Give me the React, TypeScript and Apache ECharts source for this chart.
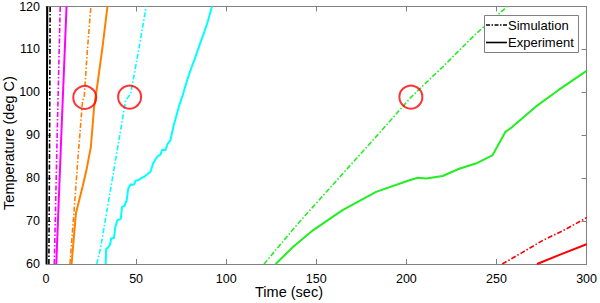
import React, { useEffect, useRef } from "react";
import * as echarts from "echarts";

// [time (sec), temperature (deg C)]
const blackSim: number[][] = [[1.6, 60], [2.0, 90], [2.3, 120]];
const blackExp: number[][] = [[0.3, 60], [0.5, 90], [0.7, 120]];
const magentaSim: number[][] = [[4.6, 60], [6.2, 90], [7.9, 120]];
const magentaExp: number[][] = [[5.7, 60], [8.5, 90], [11.4, 120]];
const orangeSim: number[][] = [[13.3, 60], [15.5, 72], [17.8, 85], [20.3, 98.1], [21.2, 98.9], [23.0, 110], [24.9, 120]];
const orangeExp: number[][] = [[14.2, 60], [16.6, 71.8], [20.3, 78], [22.5, 82], [24.9, 87.3], [26.7, 96.6], [28.6, 102], [31.5, 111], [34.1, 120]];
const cyanSim: number[][] = [[28.2, 60], [30.4, 64], [37.5, 81.5], [44.2, 98.1], [47.0, 99.7], [51.5, 110], [55.6, 120]];
const cyanExp: number[][] = [
  [33.1, 60], [33.4, 63.6], [34.1, 63.6], [35.5, 64.5], [36.2, 66], [37.7, 66], [38.4, 68.5], [39.6, 70.2],
  [41.5, 70.5], [42.2, 73.3], [43.5, 73.5], [44.8, 74.9], [45.6, 77.5], [47.0, 78.6], [47.9, 78.4],
  [49.0, 78.6], [49.7, 79.4], [51.0, 79.5], [52.5, 79.9], [55.0, 80.5], [58.0, 81.5], [59.5, 83.5],
  [61.7, 85], [63.5, 85.5], [64.5, 86.6], [66.3, 86.5], [67.5, 88], [69.0, 88.8], [71.0, 92.5],
  [73.7, 96.6], [76.0, 99.5], [78.3, 102.8], [80.5, 105.5], [82.9, 108.2], [85.2, 111], [87.5, 113.6],
  [89.8, 116.5], [92.1, 120],
];
const greenSim: number[][] = [[121, 60], [140, 69.5], [164.8, 81.1], [185, 90.5], [202.6, 98.9], [220.1, 105.9], [238.5, 113.6], [256, 120]];
const greenExp: number[][] = [
  [127.4, 60], [137.2, 64], [148.3, 67.9], [164.8, 72.6], [183.2, 76.8], [201.7, 79.5], [206.3, 80.1],
  [210.9, 79.9], [220.1, 80.5], [229.3, 82.2], [238.5, 83.4], [247.7, 85.3], [250.4, 87.3], [255, 90.8],
  [258.7, 91.9], [271.6, 96.6], [284.3, 100.5], [300, 105],
];
const redSim: number[][] = [[253.2, 60], [264, 62.6], [275.3, 65.4], [288, 68], [300, 70.8]];
const redExp: number[][] = [[272.5, 60], [286, 62.3], [300, 64.6]];
const circles: number[][] = [[21.5, 98.8], [46.4, 98.9], [202.5, 98.9]];

const xTicks = [0, 50, 100, 150, 200, 250, 300];
const yTicks = [60, 70, 80, 90, 100, 110, 120];
const xTitle = "Time (sec)";
const yTitle = "Temperature (deg C)";
const legendLabels = ["Simulation", "Experiment"];

const FONT = "Liberation Sans, Arial, sans-serif";
const DASHDOT = [5, 2, 1.5, 2];
const AXIS_COLOR = "#808080";

export default function App() {
  const ref = useRef<HTMLDivElement>(null);
  useEffect(() => {
    if (!ref.current) return;
    const chart = echarts.init(ref.current, undefined, { renderer: "svg" });
    const line = (data: number[][], color: string, sim: boolean) => ({
      type: "line",
      data,
      xAxisIndex: 0,
      yAxisIndex: 0,
      showSymbol: false,
      symbol: "none",
      clip: true,
      lineStyle: { color, width: sim ? 1.6 : 2, type: sim ? DASHDOT : "solid" },
    });
    const axisLine = { show: true, onZero: false, lineStyle: { color: AXIS_COLOR, width: 1 } };
    const axisTick = { show: true, inside: true, length: 5, lineStyle: { color: AXIS_COLOR } };
    chart.setOption({
      animation: false,
      backgroundColor: "#ffffff",
      grid: { left: 46, right: 12, top: 6, bottom: 39 },
      xAxis: [
        {
          type: "value",
          position: "bottom",
          min: xTicks[0],
          max: xTicks[xTicks.length - 1],
          interval: 50,
          axisLine,
          axisTick,
          splitLine: { show: false },
          axisLabel: { show: true, color: "#000", fontSize: 12.5, fontFamily: FONT, margin: 8 },
        },
        {
          type: "value",
          position: "top",
          min: xTicks[0],
          max: xTicks[xTicks.length - 1],
          interval: 50,
          axisLine,
          axisTick,
          splitLine: { show: false },
          axisLabel: { show: false },
        },
      ],
      yAxis: [
        {
          type: "value",
          position: "left",
          min: yTicks[0],
          max: yTicks[yTicks.length - 1],
          interval: 10,
          axisLine,
          axisTick,
          splitLine: { show: false },
          axisLabel: { show: true, color: "#000", fontSize: 12.5, fontFamily: FONT, margin: 6 },
        },
        {
          type: "value",
          position: "right",
          min: yTicks[0],
          max: yTicks[yTicks.length - 1],
          interval: 10,
          axisLine,
          axisTick,
          splitLine: { show: false },
          axisLabel: { show: false },
        },
      ],
      series: [
        line(blackExp, "#000000", false),
        line(blackSim, "#000000", true),
        line(magentaExp, "#ff00ff", false),
        line(magentaSim, "#ff00ff", true),
        line(orangeExp, "#ff8000", false),
        line(orangeSim, "#ff8000", true),
        line(cyanExp, "#00ffff", false),
        line(cyanSim, "#00ffff", true),
        line(greenExp, "#22ee22", false),
        line(greenSim, "#22ee22", true),
        line(redExp, "#ff0000", false),
        line(redSim, "#ff0000", true),
        {
          type: "scatter",
          data: circles,
          symbol: "circle",
          symbolSize: 23,
          itemStyle: { color: "rgba(0,0,0,0)", borderColor: "#ff0000", borderWidth: 2 },
          z: 5,
        },
      ],
      graphic: [
        {
          type: "text",
          x: 289,
          y: 292,
          style: { text: xTitle, fill: "#000", fontSize: 14.5, fontFamily: FONT, align: "center", verticalAlign: "middle" },
        },
        {
          type: "text",
          x: 9,
          y: 143,
          rotation: Math.PI / 2,
          style: { text: yTitle, fill: "#000", fontSize: 14.5, fontFamily: FONT, align: "center", verticalAlign: "middle" },
        },
        {
          type: "rect",
          shape: { x: 484.5, y: 15.5, width: 94, height: 37 },
          style: { fill: "#ffffff", stroke: AXIS_COLOR, lineWidth: 1 },
          z: 100,
        },
        {
          type: "line",
          shape: { x1: 486, y1: 25, x2: 507, y2: 25 },
          style: { stroke: "#000", lineWidth: 1.6, lineDash: [4, 1.5, 1.5, 1.5] },
          z: 101,
        },
        {
          type: "line",
          shape: { x1: 486, y1: 42.5, x2: 507, y2: 42.5 },
          style: { stroke: "#000", lineWidth: 1.6 },
          z: 101,
        },
        {
          type: "text",
          x: 508,
          y: 25,
          style: { text: legendLabels[0], fill: "#000", fontSize: 13, fontFamily: FONT, verticalAlign: "middle" },
          z: 101,
        },
        {
          type: "text",
          x: 508,
          y: 42.5,
          style: { text: legendLabels[1], fill: "#000", fontSize: 13, fontFamily: FONT, verticalAlign: "middle" },
          z: 101,
        },
      ],
    });
    return () => chart.dispose();
  }, []);
  return <div ref={ref} style={{ width: 600, height: 303, position: "absolute", left: 0, top: 0 }} />;
}
